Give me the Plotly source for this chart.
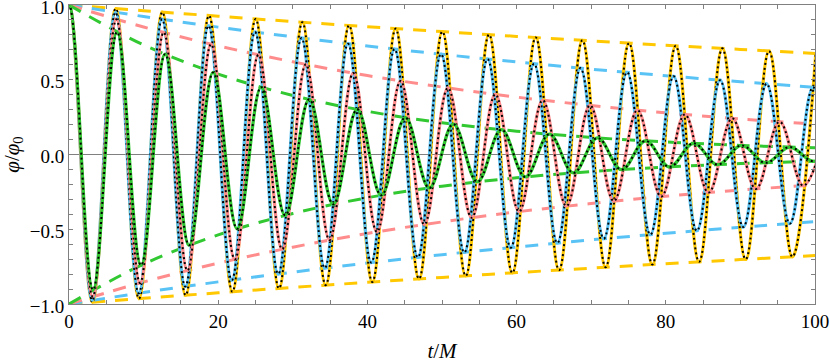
import plotly.graph_objects as go

# ---- data: extrema (time, signed value) of each curve ----
yellow_t = [-3.13, 0, 3.13, 6.26, 9.38, 12.51, 15.64, 18.77, 21.90, 25.02, 28.15, 31.28, 34.41, 37.54,
            40.66, 43.79, 46.92, 50.05, 53.18, 56.30, 59.43, 62.56, 65.69, 68.82, 71.94, 75.07, 78.20,
            81.33, 84.46, 87.58, 90.71, 93.84, 96.97, 100.10]
yellow_v = [-0.988, 1.000, -0.988, 0.976, -0.964, 0.952, -0.941, 0.929, -0.918, 0.907, -0.896, 0.885,
            -0.874, 0.863, -0.853, 0.842, -0.832, 0.822, -0.812, 0.802, -0.792, 0.783, -0.773, 0.764,
            -0.754, 0.745, -0.736, 0.727, -0.718, 0.710, -0.701, 0.692, -0.684, 0.676]

blue_t = [-3.12, 0, 3.12, 6.23, 9.35, 12.47, 15.59, 18.70, 21.82, 24.94, 28.05, 31.17, 34.29, 37.40,
          40.52, 43.64, 46.76, 49.87, 52.99, 56.11, 59.22, 62.34, 65.46, 68.57, 71.69, 74.81, 77.93,
          81.04, 84.16, 87.28, 90.39, 93.51, 96.63, 99.74, 102.86]
blue_v = [-0.975, 1.000, -0.975, 0.951, -0.928, 0.905, -0.883, 0.861, -0.840, 0.819, -0.799, 0.779,
          -0.760, 0.741, -0.723, 0.705, -0.688, 0.671, -0.655, 0.638, -0.623, 0.607, -0.592, 0.578,
          -0.563, 0.550, -0.536, 0.523, -0.510, 0.497, -0.485, 0.473, -0.462, 0.450, -0.439]

red_t = [-3.18, 0, 3.18, 6.35, 9.53, 12.70, 15.88, 19.05, 22.23, 25.40, 28.58, 31.75, 34.93, 38.10,
         41.28, 44.45, 47.63, 50.80, 53.98, 57.15, 60.33, 63.50, 66.68, 69.85, 73.03, 76.20, 79.38,
         82.55, 85.73, 88.90, 92.08, 95.25, 98.43, 101.60]
red_v = [-0.951, 1.000, -0.951, 0.904, -0.859, 0.817, -0.776, 0.738, -0.702, 0.667, -0.634, 0.603,
         -0.573, 0.545, -0.518, 0.492, -0.468, 0.445, -0.423, 0.402, -0.382, 0.363, -0.345, 0.328,
         -0.312, 0.297, -0.282, 0.268, -0.255, 0.242, -0.230, 0.219, -0.208, 0.198]

green_t = [-3.22, 0, 3.22, 6.44, 9.66, 12.88, 16.10, 19.32, 22.54, 25.76, 28.98, 32.20, 35.42, 38.64,
           41.86, 45.08, 48.30, 51.52, 54.74, 57.96, 61.18, 64.40, 67.62, 70.84, 74.06, 77.28, 80.50,
           83.72, 86.94, 90.16, 93.38, 96.60, 99.82, 103.04]
green_v = [-0.905, 1.000, -0.905, 0.819, -0.741, 0.671, -0.607, 0.549, -0.497, 0.450, -0.407, 0.369,
           -0.333, 0.302, -0.273, 0.247, -0.224, 0.203, -0.183, 0.166, -0.150, 0.136, -0.123, 0.111,
           -0.101, 0.091, -0.083, 0.075, -0.068, 0.061, -0.056, 0.050, -0.045, 0.041]

# ---- dashed envelopes ----
env_t = [0, 10, 20, 30, 40, 50, 60, 70, 80, 90, 100]
yellow_env = [1.000, 0.962, 0.925, 0.889, 0.855, 0.822, 0.790, 0.760, 0.731, 0.703, 0.676]
blue_env = [1.000, 0.923, 0.852, 0.787, 0.726, 0.670, 0.619, 0.571, 0.527, 0.487, 0.449]
red_env = [1.000, 0.853, 0.727, 0.620, 0.528, 0.451, 0.384, 0.328, 0.279, 0.238, 0.203]
green_env = [1.000, 0.733, 0.538, 0.395, 0.289, 0.212, 0.156, 0.114, 0.084, 0.061, 0.045]

x_ticks = [0, 20, 40, 60, 80, 100]
x_tick_labels = ["0", "20", "40", "60", "80", "100"]
y_ticks = [-1.0, -0.5, 0.0, 0.5, 1.0]
y_tick_labels = ["\u22121.0", "\u22120.5", "0.0", "0.5", "1.0"]

YELLOW = "rgb(255,200,0)"
BLUE = "rgb(90,195,245)"
RED = "rgb(255,140,140)"
GREEN = "rgb(50,200,50)"

series = [
    (yellow_t, yellow_v, yellow_env, YELLOW),
    (blue_t, blue_v, blue_env, BLUE),
    (red_t, red_v, red_env, RED),
    (green_t, green_v, green_env, GREEN),
]

fig = go.Figure()

for t, v, env, col in series:
    fig.add_trace(go.Scatter(
        x=env_t + [None] + env_t,
        y=env + [None] + [-e for e in env],
        mode="lines",
        line=dict(color=col, width=3, dash="13px,10px", shape="spline"),
        hoverinfo="skip", showlegend=False))

for t, v, env, col in series:
    fig.add_trace(go.Scatter(
        x=t, y=v, mode="lines",
        line=dict(color=col, width=3.2, shape="spline", smoothing=1.1),
        hoverinfo="skip", showlegend=False))
    fig.add_trace(go.Scatter(
        x=t, y=v, mode="lines",
        line=dict(color="black", width=2, shape="spline", smoothing=1.1, dash="2px,3px"),
        hoverinfo="skip", showlegend=False))

AX = "#808080"
FONT = dict(family="Liberation Serif", size=19, color="black")

fig.update_xaxes(
    range=[0, 100], showline=True, linecolor=AX, linewidth=1, mirror="allticks",
    ticks="inside", ticklen=4, tickcolor=AX, tickwidth=1, ticklabeloverflow="allow",
    tickmode="array", tickvals=x_ticks, ticktext=x_tick_labels, tickfont=FONT,
    minor=dict(dtick=5, tick0=0, ticks="inside", ticklen=4, tickcolor=AX, showgrid=False),
    showgrid=False, zeroline=False, automargin=False,
    title=dict(text="<i>t</i>/<i>M</i>", font=dict(family="Liberation Serif", size=21, color="black"),
               standoff=12),
)
fig.update_yaxes(
    range=[-1, 1], showline=True, linecolor=AX, linewidth=1, mirror="allticks",
    ticks="inside", ticklen=4, tickcolor=AX, tickwidth=1, ticklabeloverflow="allow",
    ticklabelshift=2,
    tickmode="array", tickvals=y_ticks, ticktext=y_tick_labels, tickfont=FONT,
    minor=dict(dtick=0.1, tick0=0, ticks="inside", ticklen=4, tickcolor=AX, showgrid=False),
    showgrid=False, zeroline=True, zerolinecolor=AX, zerolinewidth=1, automargin=False,
    title=dict(text="<i>\u03c6</i>/<i>\u03c6</i><sub>0</sub>",
               font=dict(family="Liberation Serif", size=21, color="black"), standoff=5),
)

fig.update_layout(
    width=830, height=364, autosize=False,
    margin=dict(l=69, r=15, t=5, b=60),
    paper_bgcolor="white", plot_bgcolor="white",
    showlegend=False,
)

fig.write_html("out.html", config={"displayModeBar": False},
               post_script="document.body.style.margin='0';")
